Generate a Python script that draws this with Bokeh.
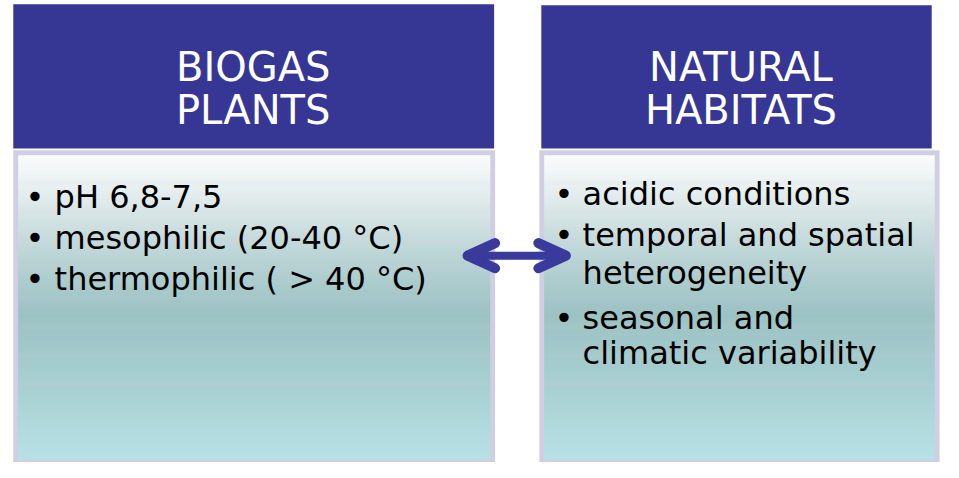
from bokeh.plotting import figure
from bokeh.models import Range1d
from bokeh.core.properties import value
from bokeh.embed import file_html
from bokeh.resources import INLINE

# ---- content ----
headers = [["BIOGAS", "PLANTS"], ["NATURAL", "HABITATS"]]
left_items = [["pH 6,8-7,5"], ["mesophilic (20-40 °C)"], ["thermophilic ( > 40 °C)"]]
right_items = [["acidic conditions"], ["temporal and spatial", "heterogeneity"],
               ["seasonal and", "climatic variability"]]

# ---- layout (diagram coordinates, y downward) ----
hdr_boxes = [(13, 502, 4, 153), (550, 947, 5, 153)]
body_outer = [(13, 503, 155, 478), (548, 955, 155, 478)]
body_inner = [(18, 498, 160, 475), (553, 950, 160, 475)]
hdr_center = [257, 753]
hdr_baselines = [69, 113]
bullet_x = [35, 573]
text_x = [55, 592]
left_baselines = [[203], [246], [288]]
right_baselines = [[200], [243, 282], [328, 365]]

HDR_COLOR = "#363694"
BORDER = "#d0cee4"
ARROW = "#393a9c"
FONT = "DejaVu Sans"

grad_stops = [(160, "#fafcfc"), (200, "#e4eded"), (250, "#c4d9da"), (300, "#a7c9ca"),
              (325, "#9dc2c3"), (400, "#a8d0d2"), (475, "#b6e1e5")]


def hex2rgb(h):
    h = h.lstrip("#")
    return tuple(int(h[i:i + 2], 16) for i in (0, 2, 4))


def color_at(y):
    for (y0, c0), (y1, c1) in zip(grad_stops[:-1], grad_stops[1:]):
        if y0 <= y <= y1:
            t = (y - y0) / (y1 - y0)
            a, b = hex2rgb(c0), hex2rgb(c1)
            return "#%02x%02x%02x" % tuple(round(a[i] + (b[i] - a[i]) * t) for i in range(3))
    return grad_stops[-1][1]


W, H = 943, 462
p = figure(width=W, height=H, x_range=Range1d(0, 959), y_range=Range1d(478, 0),
           output_backend="svg", toolbar_location=None, min_border=0)
p.axis.visible = False
p.grid.visible = False
p.outline_line_color = None
p.background_fill_color = "white"
p.border_fill_color = "white"

# headers
p.quad(left=[b[0] for b in hdr_boxes], right=[b[1] for b in hdr_boxes],
       top=[b[2] for b in hdr_boxes], bottom=[b[3] for b in hdr_boxes],
       fill_color=HDR_COLOR, line_color=None)

# body borders
p.quad(left=[b[0] for b in body_outer], right=[b[1] for b in body_outer],
       top=[b[2] for b in body_outer], bottom=[b[3] for b in body_outer],
       fill_color=BORDER, line_color=None)

# gradient stripes
L, R, T, B, C = [], [], [], [], []
for (x0, x1, y0, y1) in body_inner:
    for y in range(y0, y1):
        L.append(x0); R.append(x1); T.append(y); B.append(min(y + 1.6, y1)); C.append(color_at(y + 0.5))
p.quad(left=L, right=R, top=T, bottom=B, fill_color=C, line_color=None)

# header texts
for i, lines in enumerate(headers):
    p.text(x=[hdr_center[i]] * len(lines), y=hdr_baselines[:len(lines)], text=lines,
           text_font=value(FONT), text_font_size="40px", text_color="white",
           text_align="center", text_baseline="alphabetic")

# body texts
for side, (items, bls) in enumerate([(left_items, left_baselines), (right_items, right_baselines)]):
    bx, ty, txt = [], [], []
    for lines, ys in zip(items, bls):
        bx.append(ys[0])
        for line, yy in zip(lines, ys):
            txt.append(line); ty.append(yy)
    p.text(x=[bullet_x[side]] * len(bx), y=bx, text=["•"] * len(bx),
           text_font=value(FONT), text_font_size="32px", text_color="black",
           text_align="center", text_baseline="alphabetic")
    p.text(x=[text_x[side]] * len(txt), y=ty, text=txt,
           text_font=value(FONT), text_font_size="32px", text_color="black",
           text_align="left", text_baseline="alphabetic")

# double arrow
ay = 264
p.line(x=[478, 572], y=[ay, ay], line_color=ARROW, line_width=8)
p.line(x=[503, 475, 503], y=[ay - 13, ay, ay + 13], line_color=ARROW, line_width=10,
       line_cap="round", line_join="round")
p.line(x=[547, 575, 547], y=[ay - 13, ay, ay + 13], line_color=ARROW, line_width=10,
       line_cap="round", line_join="round")

open("out.html", "w").write(file_html(p, INLINE))
